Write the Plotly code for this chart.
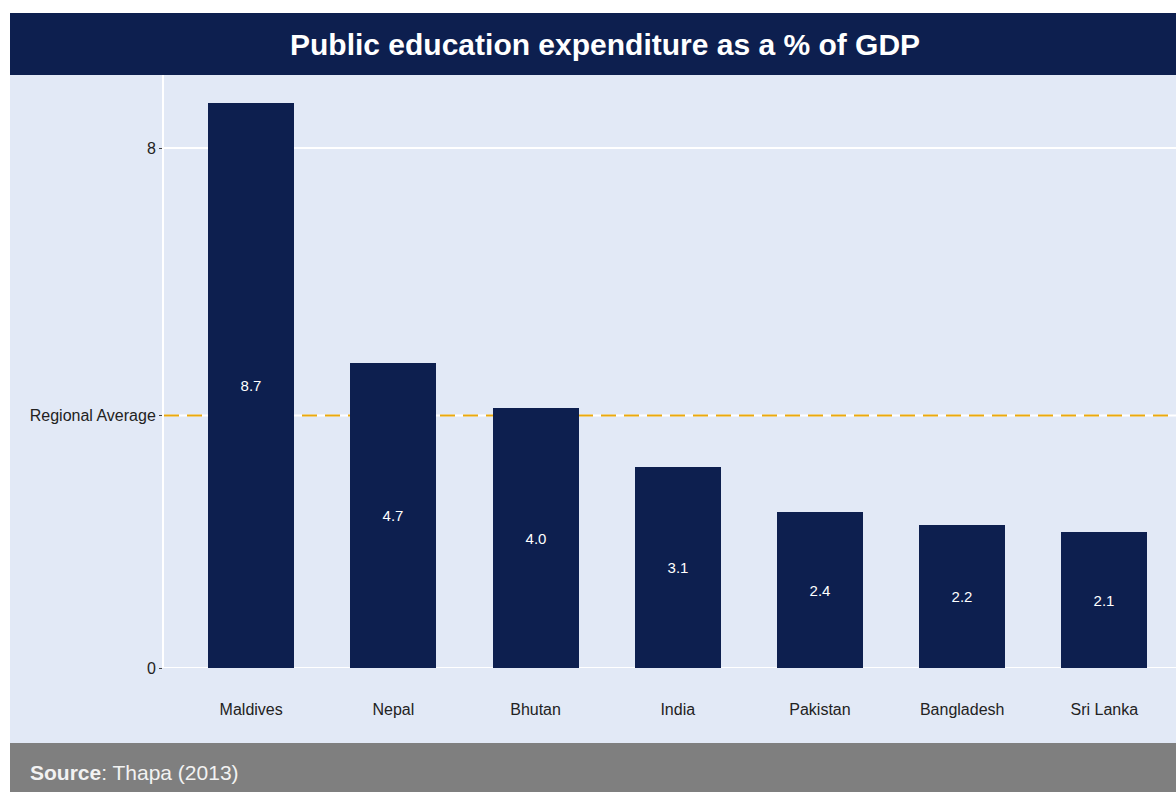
import plotly.graph_objects as go

# Public education expenditure (% of GDP), South Asia
countries = ["Maldives", "Nepal", "Bhutan", "India", "Pakistan", "Bangladesh", "Sri Lanka"]
spending = [8.7, 4.7, 4.0, 3.1, 2.4, 2.2, 2.1]
regional_avg = sum(spending) / len(spending)

y_tick_vals = [0, regional_avg, 8]
y_tick_text = ["0", "Regional Average", "8"]

title_text = "<b>Public education expenditure as a % of GDP</b>"
source_text = "<b>Source</b>: Thapa (2013)"

NAVY = "#0D1F4F"
PANEL = "#E2E9F6"
FOOTER = "#7F7F7F"
ORANGE = "#EBA90E"
FONT = "Liberation Sans, Arial, Helvetica, sans-serif"

W, H = 1176, 792
ML, MR, MT, MB = 164, 0, 75, 124
PW, PH = W - ML - MR, H - MT - MB


def px_x(px):
    return (px - ML) / PW


def px_y(py):
    return (H - MB - py) / PH


fig = go.Figure(
    go.Bar(
        x=list(range(len(countries))),
        y=spending,
        width=0.605,
        marker=dict(color=NAVY, line=dict(width=0)),
        text=[f"{v:.1f}" for v in spending],
        textposition="inside",
        insidetextanchor="middle",
        textangle=0,
        constraintext="none",
        textfont=dict(color="white", size=15, family=FONT),
        hoverinfo="skip",
    )
)

shapes = [
    # light panel behind everything
    dict(type="rect", xref="paper", yref="paper",
         x0=px_x(10), x1=px_x(W + 5), y0=px_y(H + 5), y1=px_y(13),
         fillcolor=PANEL, line=dict(width=0), layer="below"),
    # title band
    dict(type="rect", xref="paper", yref="paper",
         x0=px_x(10), x1=px_x(W + 5), y0=px_y(75), y1=px_y(13),
         fillcolor=NAVY, line=dict(width=0), layer="below"),
    # caption band
    dict(type="rect", xref="paper", yref="paper",
         x0=px_x(10), x1=px_x(W + 5), y0=px_y(H + 5), y1=px_y(743),
         fillcolor=FOOTER, line=dict(width=0), layer="below"),
]

# white horizontal guide lines at each y tick
for v in y_tick_vals:
    shapes.append(dict(type="line", xref="x domain", yref="y",
                       x0=0, x1=1, y0=v, y1=v,
                       line=dict(color="white", width=2), layer="below"))

# regional average reference line, dashed over its white guide
shapes.append(dict(type="line", xref="x domain", yref="y",
                   x0=0, x1=1, y0=regional_avg, y1=regional_avg,
                   line=dict(color=ORANGE, width=2, dash="15px,8px"), layer="below"))

annotations = [
    dict(text=title_text, xref="paper", yref="paper",
         x=px_x(605), y=px_y(44), xanchor="center", yanchor="middle",
         showarrow=False, font=dict(color="white", size=30, family=FONT)),
    dict(text=source_text, xref="paper", yref="paper",
         x=px_x(28), y=px_y(772), xanchor="left", yanchor="middle",
         showarrow=False, font=dict(color="#F2F2F2", size=21, family=FONT)),
]

fig.update_layout(
    width=W, height=H,
    margin=dict(l=ML, r=MR, t=MT, b=MB, pad=0),
    paper_bgcolor="white",
    plot_bgcolor=PANEL,
    showlegend=False,
    bargap=0,
    shapes=shapes,
    annotations=annotations,
    font=dict(family=FONT, color="#222222"),
    xaxis=dict(
        range=[-0.613, -0.613 + PW / 142.2],
        tickmode="array",
        tickvals=list(range(len(countries))),
        ticktext=countries,
        showgrid=False, zeroline=False, showline=False,
        ticks="", ticklabelstandoff=30,
        tickfont=dict(size=16, family=FONT, color="#222222"),
        fixedrange=True,
    ),
    yaxis=dict(
        range=[0, PH / 65.0],
        tickmode="array",
        tickvals=y_tick_vals,
        ticktext=y_tick_text,
        showgrid=False,
        zeroline=False,
        showline=True, linecolor="white", linewidth=2,
        ticks="outside", ticklen=3, tickwidth=1, tickcolor="#444444",
        tickfont=dict(size=16, family=FONT, color="#222222"),
        fixedrange=True,
    ),
)

fig.write_html("out.html")
